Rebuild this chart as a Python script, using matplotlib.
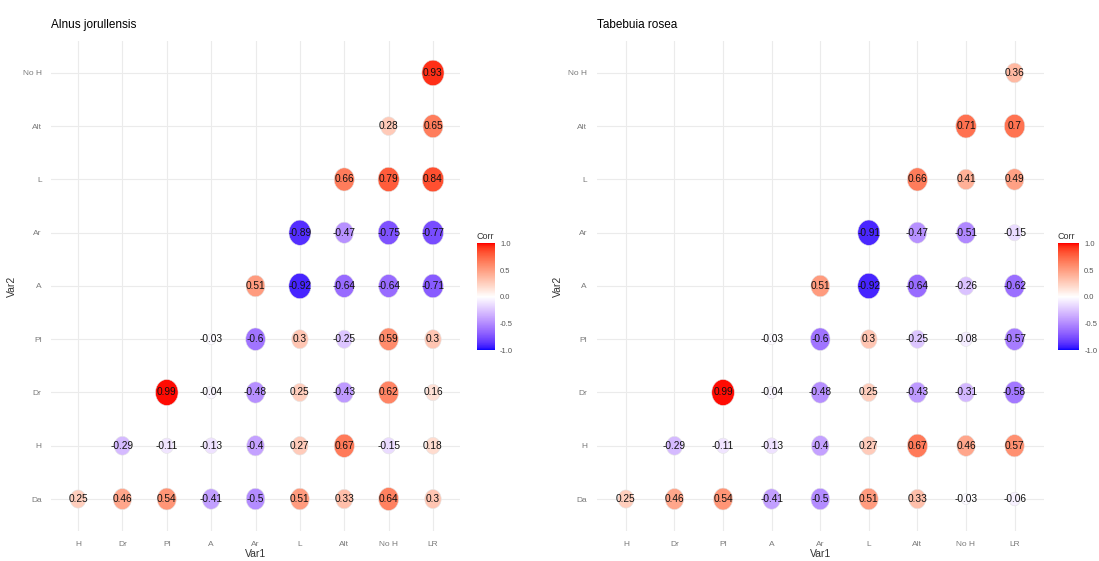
import numpy as np
import matplotlib
matplotlib.use("Agg")
import matplotlib.pyplot as plt
from matplotlib.colors import ListedColormap, Normalize, to_rgb
from matplotlib.path import Path

plt.rcParams['font.family'] = ['Liberation Sans', 'DejaVu Sans']

# Data
var1 = ['H', 'Dr', 'Pl', 'A', 'Ar', 'L', 'Alt', 'No H', 'LR']
var2 = ['Da', 'H', 'Dr', 'Pl', 'A', 'Ar', 'L', 'Alt', 'No H']

# lower triangle, each row starts at column index == row index
alnus = [
    [0.25, 0.46, 0.54, -0.41, -0.5, 0.51, 0.33, 0.64, 0.3],   # Da
    [-0.29, -0.11, -0.13, -0.4, 0.27, 0.67, -0.15, 0.18],     # H
    [0.99, -0.04, -0.48, 0.25, -0.43, 0.62, 0.16],            # Dr
    [-0.03, -0.6, 0.3, -0.25, 0.59, 0.3],                     # Pl
    [0.51, -0.92, -0.64, -0.64, -0.71],                       # A
    [-0.89, -0.47, -0.75, -0.77],                             # Ar
    [0.66, 0.79, 0.84],                                       # L
    [0.28, 0.65],                                             # Alt
    [0.93],                                                   # No H
]

tabebuia = [
    [0.25, 0.46, 0.54, -0.41, -0.5, 0.51, 0.33, -0.03, -0.06],
    [-0.29, -0.11, -0.13, -0.4, 0.27, 0.67, 0.46, 0.57],
    [0.99, -0.04, -0.48, 0.25, -0.43, -0.31, -0.58],
    [-0.03, -0.6, 0.3, -0.25, -0.08, -0.57],
    [0.51, -0.92, -0.64, -0.26, -0.62],
    [-0.91, -0.47, -0.51, -0.15],
    [0.66, 0.41, 0.49],
    [0.71, 0.7],
    [0.36],
]

titles = ['Alnus jorullensis', 'Tabebuia rosea']


# blue-white-red gradient interpolated in Lab, like ggplot's gradient2
def rgb2lab(c):
    c = np.asarray(c, float)
    c = np.where(c > 0.04045, ((c + 0.055) / 1.055) ** 2.4, c / 12.92)
    m = np.array([[0.4124, 0.3576, 0.1805],
                  [0.2126, 0.7152, 0.0722],
                  [0.0193, 0.1192, 0.9505]])
    xyz = m @ c / np.array([0.95047, 1.0, 1.08883])
    f = np.where(xyz > 0.008856, np.cbrt(xyz), 7.787 * xyz + 16 / 116)
    return np.array([116 * f[1] - 16, 500 * (f[0] - f[1]), 200 * (f[1] - f[2])])


def lab2rgb(lab):
    L, a, b = lab
    fy = (L + 16) / 116
    fx = fy + a / 500
    fz = fy - b / 200
    f = np.array([fx, fy, fz])
    xyz = np.where(f ** 3 > 0.008856, f ** 3, (f - 16 / 116) / 7.787)
    xyz = xyz * np.array([0.95047, 1.0, 1.08883])
    m = np.array([[3.2406, -1.5372, -0.4986],
                  [-0.9689, 1.8758, 0.0415],
                  [0.0557, -0.2040, 1.0570]])
    c = m @ xyz
    c = np.where(c > 0.0031308, 1.055 * np.clip(c, 0, None) ** (1 / 2.4) - 0.055, 12.92 * c)
    return np.clip(c, 0, 1)


lo, mid, hi = rgb2lab(to_rgb('blue')), rgb2lab(to_rgb('white')), rgb2lab(to_rgb('red'))
cols = []
for t in np.linspace(-1, 1, 256):
    if t < 0:
        cols.append(lab2rgb(mid + (lo - mid) * (-t)))
    else:
        cols.append(lab2rgb(mid + (hi - mid) * t))
cmap = ListedColormap(cols)
norm = Normalize(-1, 1)

# slightly tall ellipse marker (reference is squeezed horizontally)
th = np.linspace(0, 2 * np.pi, 60)
ell = Path(np.column_stack([0.87 * np.cos(th), np.sin(th)]))

fig = plt.figure(figsize=(10.99, 5.61), dpi=100)

ax_pos = [[0.0468, 0.0535, 0.3714, 0.8735], [0.543, 0.0535, 0.4067, 0.8735]]
cb_pos = [[0.434, 0.376, 0.016, 0.19], [0.9625, 0.376, 0.019, 0.19]]
title_x = [0.046, 0.543]

for k, rows in enumerate([alnus, tabebuia]):
    ax = fig.add_axes(ax_pos[k])
    xs, ys, vs = [], [], []
    for i, row in enumerate(rows):
        for j, v in enumerate(row):
            xs.append(i + j)
            ys.append(i)
            vs.append(v)
    xs, ys, vs = np.array(xs), np.array(ys), np.array(vs)
    a = np.abs(vs)
    d = 11 + 15 * np.sqrt((a - a.min()) / (a.max() - a.min()))  # diameter px
    s = (d * 0.72) ** 2
    ax.scatter(xs, ys, s=s, c=vs, cmap=cmap, norm=norm, marker=ell,
               edgecolors='#e4e4e4', linewidths=0.4, zorder=3)
    for x, y, v in zip(xs, ys, vs):
        lab = ('%.2f' % v).rstrip('0').rstrip('.')
        ax.text(x, y, lab, ha='center', va='center', fontsize=7.3, color='#111111', zorder=4)

    ax.set_xlim(-0.6, 8.6)
    ax.set_ylim(-0.6, 8.6)
    ax.set_xticks(range(len(var1)))
    ax.set_xticklabels(var1)
    ax.set_yticks(range(len(var2)))
    ax.set_yticklabels(var2)
    ax.tick_params(length=0, labelsize=6, labelcolor='#7a7a7a', pad=7)
    ax.grid(True, color='#ebebeb', linewidth=0.8)
    ax.set_axisbelow(True)
    for sp in ax.spines.values():
        sp.set_visible(False)
    ax.set_xlabel('Var1', fontsize=7.5, color='#333333', labelpad=1)
    ax.set_ylabel('Var2', fontsize=7.5, color='#333333', labelpad=4)
    fig.text(title_x[k], 0.955, titles[k], fontsize=8.5, ha='left', va='center')

    cax = fig.add_axes(cb_pos[k])
    cb = fig.colorbar(plt.cm.ScalarMappable(norm=norm, cmap=cmap), cax=cax)
    cb.set_ticks([-1, -0.5, 0, 0.5, 1])
    cb.set_ticklabels(['-1.0', '-0.5', '0.0', '0.5', '1.0'])
    cb.outline.set_visible(False)
    cax.tick_params(length=2, labelsize=5.5, labelcolor='#555555', color='white', pad=2)
    cax.set_title('Corr', fontsize=6.5, loc='left', color='#333333', pad=3)

fig.savefig('out.png', dpi=100)
